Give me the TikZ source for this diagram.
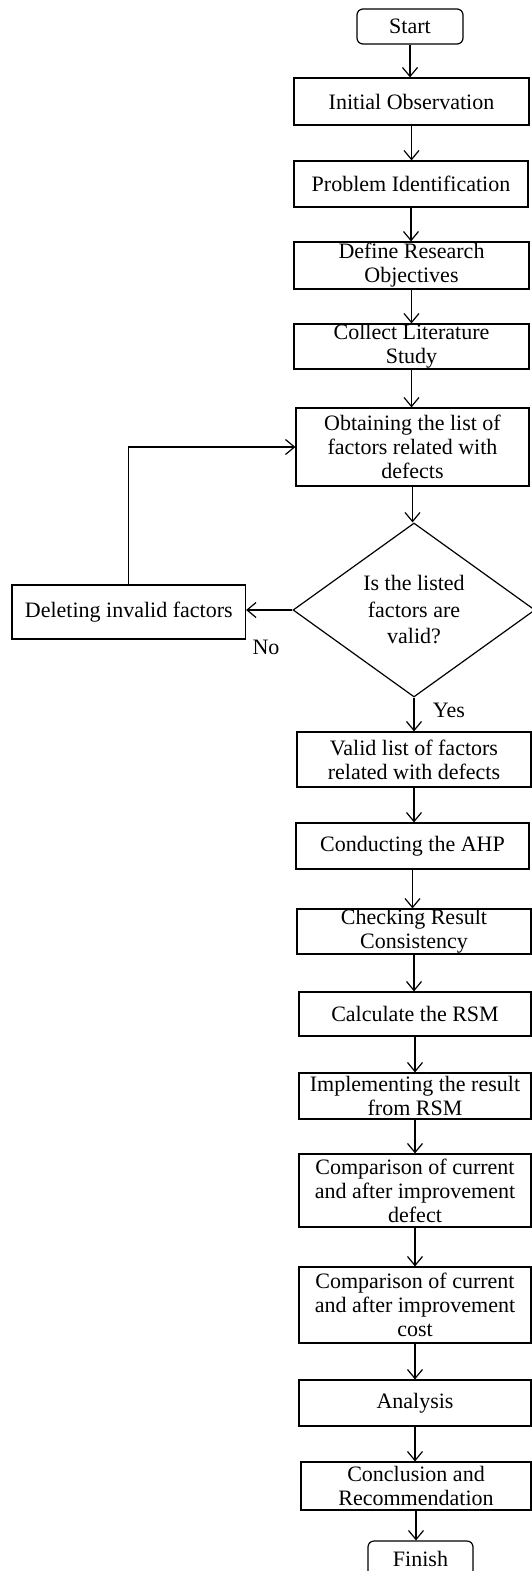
\documentclass[tikz,border=0pt]{standalone}
\usepackage{fontspec}
\setmainfont{Liberation Serif}
\usetikzlibrary{arrows.meta,shapes.geometric}

\tikzset{
  box/.style={draw, line width=1.2pt, inner sep=0pt, align=center,
    font=\fontsize{22}{24}\selectfont},
  term/.style={box, rounded corners=6pt},
  decision/.style={draw, diamond, line width=1.2pt, inner sep=0pt, align=center,
    font=\fontsize{22}{26.5}\selectfont},
  lbl/.style={font=\fontsize{22}{24}\selectfont, inner sep=0pt},
  arr/.style={-{Straight Barb[length=9pt,width=15pt,line width=1.2pt]}, line width=1.2pt},
  flow/.style={arr}
}

\begin{document}
\begin{tikzpicture}[x=1pt, y=-1pt]
  \useasboundingbox (0,0) rectangle (531,1571);
  \fill[white] (0,0) rectangle (531,1571);

  % main column of steps
  \node[term, minimum width=106pt, minimum height=35pt] (start) at (410,26.5) {Start};
  \node[box, minimum width=235pt, minimum height=47pt] (init) at (411.5,101.5) {Initial Observation};
  \node[box, minimum width=234pt, minimum height=46pt] (prob) at (411,184) {Problem Identification};
  \node[box, minimum width=235pt, minimum height=47pt] (defn) at (411.5,265.5) {Define Research\\Objectives};
  \node[box, minimum width=235pt, minimum height=45pt] (coll) at (411.5,346.5) {Collect Literature\\Study};
  \node[box, minimum width=233pt, minimum height=78pt] (obt) at (412.5,447) {Obtaining the list of\\factors related with\\defects};
  \node[decision, minimum width=242pt, minimum height=174pt] (dia) at (414,610) {Is the listed\\factors are\\valid?};
  \node[box, minimum width=233.5pt, minimum height=54pt] (del) at (128.75,612) {Deleting invalid factors};
  \node[box, minimum width=234pt, minimum height=55pt] (valid) at (414,759.5) {Valid list of factors\\related with defects};
  \node[box, minimum width=233pt, minimum height=46pt] (ahp) at (412.5,846) {Conducting the AHP};
  \node[box, minimum width=234pt, minimum height=45pt] (chk) at (414,931.5) {Checking Result\\Consistency};
  \node[box, minimum width=232pt, minimum height=44pt] (rsm) at (415,1014) {Calculate the RSM};
  \node[box, minimum width=232pt, minimum height=46pt] (impl) at (415,1096) {Implementing the result\\from RSM};
  \node[box, minimum width=232pt, minimum height=73pt] (cmpd) at (415,1190.5) {Comparison of current\\and after improvement\\defect};
  \node[box, minimum width=232pt, minimum height=76pt] (cmpc) at (415,1305) {Comparison of current\\and after improvement\\cost};
  \node[box, minimum width=232pt, minimum height=46pt] (ana) at (415,1403) {Analysis};
  \node[box, minimum width=230pt, minimum height=48pt] (conc) at (416,1486) {Conclusion and\\Recommendation};
  \node[term, minimum width=105pt, minimum height=36pt] (fin) at (420.5,1559) {Finish};

  % branch labels
  \node[lbl] (no) at (266,647) {No};
  \node[lbl] (yes) at (449,710) {Yes};

  % straight-down connectors
  \foreach \a/\b in {start/init, init/prob, prob/defn, defn/coll, coll/obt, obt/dia,
                     dia/valid, valid/ahp, ahp/chk, chk/rsm, rsm/impl, impl/cmpd,
                     cmpd/cmpc, cmpc/ana, ana/conc, conc/fin}
    \draw[flow] (\a.south) -- (\a.south |- \b.north);

  % rejected factors loop back
  \draw[flow] (dia.west) -- (dia.west -| del.east);
  \draw[flow] (del.north) |- (obt.west);
\end{tikzpicture}
\end{document}
